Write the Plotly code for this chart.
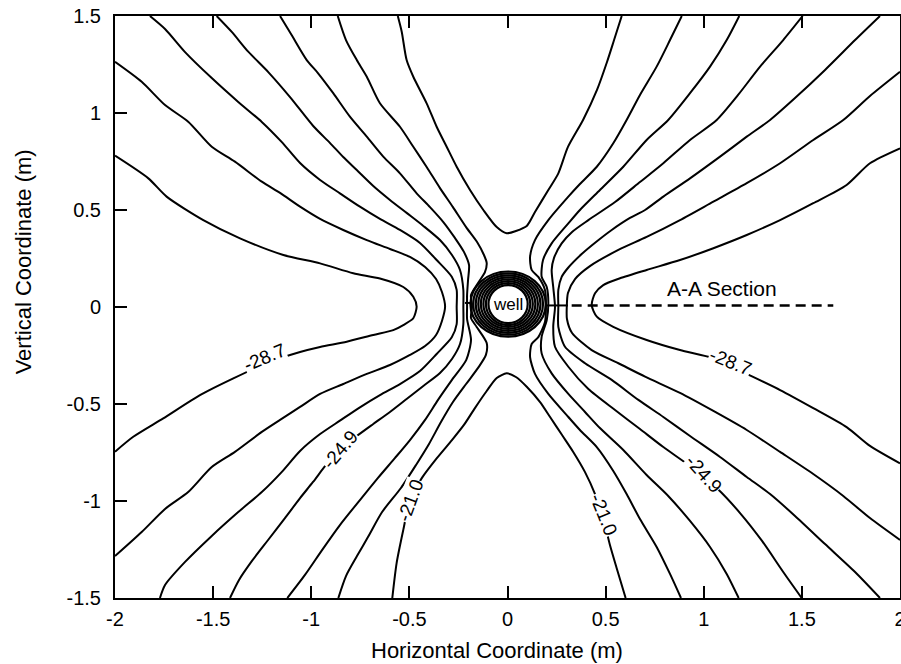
import plotly.graph_objects as go

FONT = "Liberation Sans, Arial, sans-serif"

# ---------------- axis ticks ----------------
x_tick_vals = [-2, -1.5, -1, -0.5, 0, 0.5, 1, 1.5, 2]
x_tick_text = ["-2", "-1.5", "-1", "-0.5", "0", "0.5", "1", "1.5", "2"]
y_tick_vals = [-1.5, -1, -0.5, 0, 0.5, 1, 1.5]
y_tick_text = ["-1.5", "-1", "-0.5", "0", "0.5", "1", "1.5"]

# ---------------- contour lines, west side ----------------
west_1_x = [-2.000, -1.830, -1.737, -1.550, -1.363, -1.142, -0.955, -0.786, -0.650, -0.531, -0.480, -0.463,
            -0.480, -0.531, -0.582, -0.684, -0.819, -0.955, -1.057, -1.227, -1.397, -1.567, -1.754, -1.907, -2.000]
west_1_y = [0.780, 0.663, 0.569, 0.448, 0.354, 0.268, 0.225, 0.174, 0.147, 0.103, 0.053, 0.002,
            -0.058, -0.093, -0.119, -0.144, -0.179, -0.206, -0.232, -0.289, -0.368, -0.454, -0.574, -0.669, -0.746]

west_2_x = [-2.000, -1.864, -1.745, -1.627, -1.507, -1.389, -1.252, -1.159, -1.057, -0.955, -0.837, -0.717,
            -0.599, -0.497, -0.420, -0.364, -0.334, -0.318,
            -0.334, -0.364, -0.420, -0.497, -0.599, -0.717, -0.837, -0.955, -1.057, -1.159, -1.252, -1.389,
            -1.507, -1.627, -1.745, -1.864, -2.000]
west_2_y = [1.264, 1.161, 1.041, 0.955, 0.826, 0.749, 0.646, 0.588, 0.517, 0.454, 0.397, 0.345,
            0.299, 0.258, 0.206, 0.144, 0.077, 0.002,
            -0.072, -0.144, -0.201, -0.247, -0.299, -0.345, -0.397, -0.448, -0.515, -0.582, -0.644, -0.747,
            -0.825, -0.954, -1.041, -1.160, -1.284]

west_3_x = [-1.822, -1.745, -1.643, -1.507, -1.372, -1.252, -1.151, -1.057, -0.955, -0.854, -0.752, -0.650,
            -0.548, -0.446, -0.361, -0.284, -0.259, -0.259,
            -0.259, -0.284, -0.361, -0.446, -0.548, -0.650, -0.752, -0.854, -0.955, -1.057, -1.151, -1.252,
            -1.372, -1.507, -1.643, -1.745, -1.771]
west_3_y = [1.500, 1.433, 1.314, 1.180, 1.057, 0.954, 0.851, 0.742, 0.655, 0.586, 0.517, 0.454,
            0.397, 0.330, 0.242, 0.156, 0.088, 0.000,
            -0.088, -0.156, -0.242, -0.330, -0.397, -0.454, -0.517, -0.586, -0.655, -0.742, -0.851, -0.954,
            -1.057, -1.180, -1.314, -1.433, -1.500]

west_4_x = [-1.482, -1.405, -1.321, -1.219, -1.108, -0.990, -0.904, -0.837, -0.768, -0.684, -0.599, -0.514,
            -0.429, -0.344, -0.283, -0.242, -0.225, -0.225,
            -0.225, -0.242, -0.283, -0.344, -0.429, -0.514, -0.599, -0.684, -0.768, -0.854, -0.925, -0.991,
            -1.057, -1.134, -1.220, -1.302, -1.368, -1.414]
west_4_y = [1.500, 1.418, 1.316, 1.211, 1.082, 0.933, 0.845, 0.773, 0.706, 0.624, 0.552, 0.485,
            0.418, 0.345, 0.268, 0.191, 0.088, 0.000,
            -0.088, -0.191, -0.268, -0.340, -0.407, -0.474, -0.541, -0.603, -0.665, -0.732, -0.814, -0.902,
            -0.985, -1.088, -1.201, -1.309, -1.407, -1.500]

west_5_x = [-1.159, -1.100, -1.023, -0.966, -0.888, -0.803, -0.717, -0.633, -0.548, -0.463, -0.395, -0.327,
            -0.268, -0.222, -0.196, -0.201, -0.206, -0.206,
            -0.206, -0.186, -0.210, -0.283, -0.354, -0.420, -0.497, -0.573, -0.660, -0.752, -0.854, -0.945,
            -1.032, -1.122]
west_5_y = [1.500, 1.402, 1.273, 1.206, 1.102, 0.981, 0.878, 0.775, 0.689, 0.586, 0.515, 0.438,
            0.356, 0.284, 0.216, 0.139, 0.062, 0.000,
            -0.062, -0.170, -0.273, -0.376, -0.479, -0.582, -0.686, -0.778, -0.881, -0.995, -1.124, -1.253,
            -1.381, -1.500]

west_6_x = [-0.865, -0.823, -0.768, -0.717, -0.650, -0.548, -0.480, -0.412, -0.344, -0.278, -0.211, -0.155,
            -0.120, -0.106, -0.115, -0.150, -0.186, -0.181,
            -0.186, -0.157, -0.106, -0.110, -0.150, -0.211, -0.278, -0.339, -0.400, -0.466, -0.543, -0.639,
            -0.711, -0.767, -0.823, -0.862]
west_6_y = [1.500, 1.376, 1.273, 1.187, 1.050, 0.929, 0.826, 0.722, 0.613, 0.515, 0.412, 0.335,
            0.268, 0.227, 0.180, 0.124, 0.062, 0.000,
            -0.057, -0.103, -0.186, -0.247, -0.314, -0.397, -0.490, -0.593, -0.706, -0.814, -0.933, -1.057,
            -1.186, -1.284, -1.387, -1.500]

# ---------------- contour lines, the two "V" shaped ones ----------------
top_v_x = [-0.559, -0.539, -0.514, -0.480, -0.412, -0.361, -0.310, -0.259, -0.191, -0.123, -0.055, -0.004,
           0.043, 0.098, 0.140, 0.208, 0.259, 0.308, 0.385, 0.456, 0.507, 0.543, 0.582]
top_v_y = [1.500, 1.419, 1.273, 1.187, 1.050, 0.929, 0.826, 0.723, 0.603, 0.500, 0.412, 0.380,
           0.392, 0.418, 0.490, 0.603, 0.689, 0.825, 0.964, 1.119, 1.263, 1.376, 1.500]

bottom_v_x = [-0.587, -0.565, -0.531, -0.497, -0.436, -0.359, -0.283, -0.222, -0.166, -0.106, -0.055, -0.004,
              0.045, 0.098, 0.166, 0.217, 0.278, 0.335, 0.395, 0.446, 0.488, 0.522, 0.556, 0.602]
bottom_v_y = [-1.500, -1.320, -1.149, -0.995, -0.881, -0.778, -0.686, -0.608, -0.521, -0.433, -0.366, -0.342,
              -0.362, -0.411, -0.490, -0.567, -0.660, -0.747, -0.851, -0.964, -1.088, -1.227, -1.345, -1.500]

# ---------------- contour lines, east side ----------------
east_1_x = [2.000, 1.847, 1.728, 1.558, 1.389, 1.219, 1.049, 0.879, 0.709, 0.573, 0.488, 0.446, 0.429,
            0.455, 0.539, 0.709, 0.879, 1.049, 1.219, 1.389, 1.558, 1.728, 1.847, 2.000]
east_1_y = [0.818, 0.741, 0.629, 0.535, 0.448, 0.371, 0.303, 0.242, 0.191, 0.148, 0.113, 0.071, 0.010,
            -0.050, -0.102, -0.170, -0.222, -0.264, -0.345, -0.428, -0.521, -0.619, -0.716, -0.806]

east_2_x = [2.000, 1.847, 1.711, 1.558, 1.389, 1.219, 1.049, 0.879, 0.709, 0.565, 0.420, 0.344, 0.308, 0.302,
            0.303, 0.329, 0.429, 0.565, 0.701, 0.879, 1.049, 1.219, 1.389, 1.558, 1.711, 1.847, 2.000]
east_2_y = [1.213, 1.088, 0.964, 0.861, 0.741, 0.638, 0.543, 0.448, 0.361, 0.294, 0.211, 0.144, 0.072, 0.000,
            -0.062, -0.134, -0.222, -0.290, -0.359, -0.443, -0.536, -0.634, -0.747, -0.861, -0.974, -1.088, -1.201]

east_3_x = [1.898, 1.771, 1.618, 1.465, 1.338, 1.219, 1.083, 0.930, 0.794, 0.701, 0.624, 0.531, 0.451, 0.378,
            0.308, 0.276, 0.259, 0.259,
            0.259, 0.293, 0.395, 0.531, 0.667, 0.794, 0.930, 1.083, 1.219, 1.338, 1.465, 1.618, 1.771, 1.898]
east_3_y = [1.500, 1.376, 1.222, 1.077, 0.964, 0.878, 0.775, 0.663, 0.569, 0.500, 0.459, 0.397, 0.335, 0.273,
            0.201, 0.155, 0.088, 0.000,
            -0.102, -0.205, -0.290, -0.376, -0.479, -0.567, -0.665, -0.773, -0.876, -0.964, -1.077, -1.222,
            -1.366, -1.500]

east_4_x = [1.504, 1.405, 1.287, 1.175, 1.066, 0.930, 0.794, 0.675, 0.548, 0.412, 0.329, 0.276, 0.237, 0.225,
            0.233, 0.242,
            0.233, 0.242, 0.310, 0.412, 0.548, 0.675, 0.794, 0.930, 1.066, 1.185, 1.297, 1.405, 1.499]
east_4_y = [1.500, 1.376, 1.239, 1.093, 0.964, 0.861, 0.741, 0.644, 0.541, 0.448, 0.387, 0.328, 0.253, 0.191,
            0.103, 0.000,
            -0.102, -0.205, -0.308, -0.423, -0.531, -0.629, -0.722, -0.820, -0.933, -1.062, -1.206, -1.366, -1.500]

east_5_x = [1.181, 1.117, 1.032, 0.930, 0.819, 0.709, 0.590, 0.471, 0.369, 0.310, 0.225, 0.181, 0.174, 0.200,
            0.208,
            0.200, 0.174, 0.174, 0.225, 0.310, 0.395, 0.471, 0.590, 0.709, 0.819, 0.930, 1.032, 1.117, 1.178]
east_5_y = [1.500, 1.376, 1.239, 1.102, 0.964, 0.861, 0.723, 0.603, 0.500, 0.431, 0.328, 0.242, 0.156, 0.103,
            0.021,
            -0.067, -0.153, -0.239, -0.342, -0.448, -0.541, -0.624, -0.737, -0.866, -0.974, -1.103, -1.237,
            -1.376, -1.500]

east_6_x = [0.888, 0.828, 0.760, 0.675, 0.607, 0.539, 0.455, 0.369, 0.310, 0.208, 0.140, 0.115, 0.123, 0.157,
            0.191, 0.196,
            0.191, 0.157, 0.123, 0.115, 0.140, 0.208, 0.310, 0.369, 0.455, 0.539, 0.607, 0.675, 0.760, 0.828, 0.884]
east_6_y = [1.500, 1.376, 1.239, 1.093, 0.964, 0.844, 0.723, 0.634, 0.569, 0.448, 0.345, 0.259, 0.191, 0.155,
            0.088, 0.000,
            -0.077, -0.155, -0.191, -0.258, -0.345, -0.448, -0.567, -0.634, -0.722, -0.845, -0.964, -1.093,
            -1.237, -1.376, -1.500]

# short solid stubs beside the well
stub_west_x = [-0.217, -0.190]
stub_west_y = [0.021, 0.021]
stub_east_x = [0.200, 0.308]
stub_east_y = [0.008, 0.008]

# A-A section (dashed)
section_x = [0.327, 1.660]
section_y = [0.008, 0.008]
section_label = "A-A Section"
section_label_x = 1.095
section_label_y = 0.093

# well: centre and packed contour rings around it
well_cx = 0.003
well_cy = 0.015
well_ring_rx = [0.100, 0.113, 0.126, 0.139, 0.152, 0.165, 0.178, 0.192]
well_ring_ry = [0.098, 0.108, 0.118, 0.128, 0.138, 0.148, 0.158, 0.168]

# contour labels
label_text = ["-28.7", "-24.9", "-21.0", "-28.7", "-24.9", "-21.0"]
label_x = [-1.240, -0.854, -0.497, 1.134, 0.998, 0.490]
label_y = [-0.260, -0.732, -0.995, -0.280, -0.860, -1.070]
label_angle = [-23, -50, -70, 22, 48, 68]

x_title = "Horizontal Coordinate (m)"
y_title = "Vertical Coordinate (m)"

# ---------------- figure ----------------
fig = go.Figure()

contours = [
    (west_1_x, west_1_y), (west_2_x, west_2_y), (west_3_x, west_3_y), (west_4_x, west_4_y),
    (west_5_x, west_5_y), (west_6_x, west_6_y), (top_v_x, top_v_y), (bottom_v_x, bottom_v_y),
    (east_1_x, east_1_y), (east_2_x, east_2_y), (east_3_x, east_3_y), (east_4_x, east_4_y),
    (east_5_x, east_5_y), (east_6_x, east_6_y),
]
for cx, cy in contours:
    fig.add_trace(go.Scatter(x=cx, y=cy, mode="lines",
                             line=dict(color="black", width=2, shape="spline", smoothing=0.7),
                             hoverinfo="skip", showlegend=False))

for cx, cy in [(stub_west_x, stub_west_y), (stub_east_x, stub_east_y)]:
    fig.add_trace(go.Scatter(x=cx, y=cy, mode="lines", line=dict(color="black", width=2),
                             hoverinfo="skip", showlegend=False))

fig.add_trace(go.Scatter(x=section_x, y=section_y, mode="lines",
                         line=dict(color="black", width=2.6, dash="10px,6px"),
                         hoverinfo="skip", showlegend=False))

for rx, ry in zip(well_ring_rx, well_ring_ry):
    fig.add_shape(type="circle", xref="x", yref="y",
                  x0=well_cx - rx, x1=well_cx + rx, y0=well_cy - ry, y1=well_cy + ry,
                  line=dict(color="black", width=2.2))

fig.add_annotation(x=well_cx, y=well_cy, text="well", showarrow=False,
                   font=dict(family=FONT, size=17, color="black"))

fig.add_annotation(x=section_label_x, y=section_label_y, text=section_label, showarrow=False,
                   font=dict(family=FONT, size=21, color="black"))

for t, lx, ly, ang in zip(label_text, label_x, label_y, label_angle):
    fig.add_annotation(x=lx, y=ly, text=t, textangle=ang, showarrow=False,
                       bgcolor="white", borderpad=0,
                       font=dict(family=FONT, size=19, color="black"))

fig.add_annotation(xref="paper", yref="paper", x=0.486, y=-0.091, text=x_title, showarrow=False,
                   xanchor="center", yanchor="middle",
                   font=dict(family=FONT, size=22, color="black"))
fig.add_annotation(xref="paper", yref="paper", x=-0.117, y=0.577, text=y_title, showarrow=False,
                   textangle=-90, xanchor="center", yanchor="middle",
                   font=dict(family=FONT, size=22, color="black"))

axis_common = dict(showline=True, linewidth=2, linecolor="black", showgrid=False, zeroline=False,
                   ticks="inside", ticklen=12, tickwidth=1.6, tickcolor="black", automargin=False,
                   tickfont=dict(family=FONT, size=20, color="black"))

fig.update_xaxes(range=[-2, 2], tickmode="array", tickvals=x_tick_vals, ticktext=x_tick_text,
                 mirror="ticks", ticklabelstandoff=2, ticklabeloverflow="allow", **axis_common)
fig.update_yaxes(range=[-1.5, 1.5], tickmode="array", tickvals=y_tick_vals, ticktext=y_tick_text,
                 mirror=True, ticklabelstandoff=8, **axis_common)

fig.update_layout(width=901, height=664, margin=dict(l=115, r=1, t=16, b=66),
                  plot_bgcolor="white", paper_bgcolor="white", showlegend=False)

fig.write_html("out.html")
